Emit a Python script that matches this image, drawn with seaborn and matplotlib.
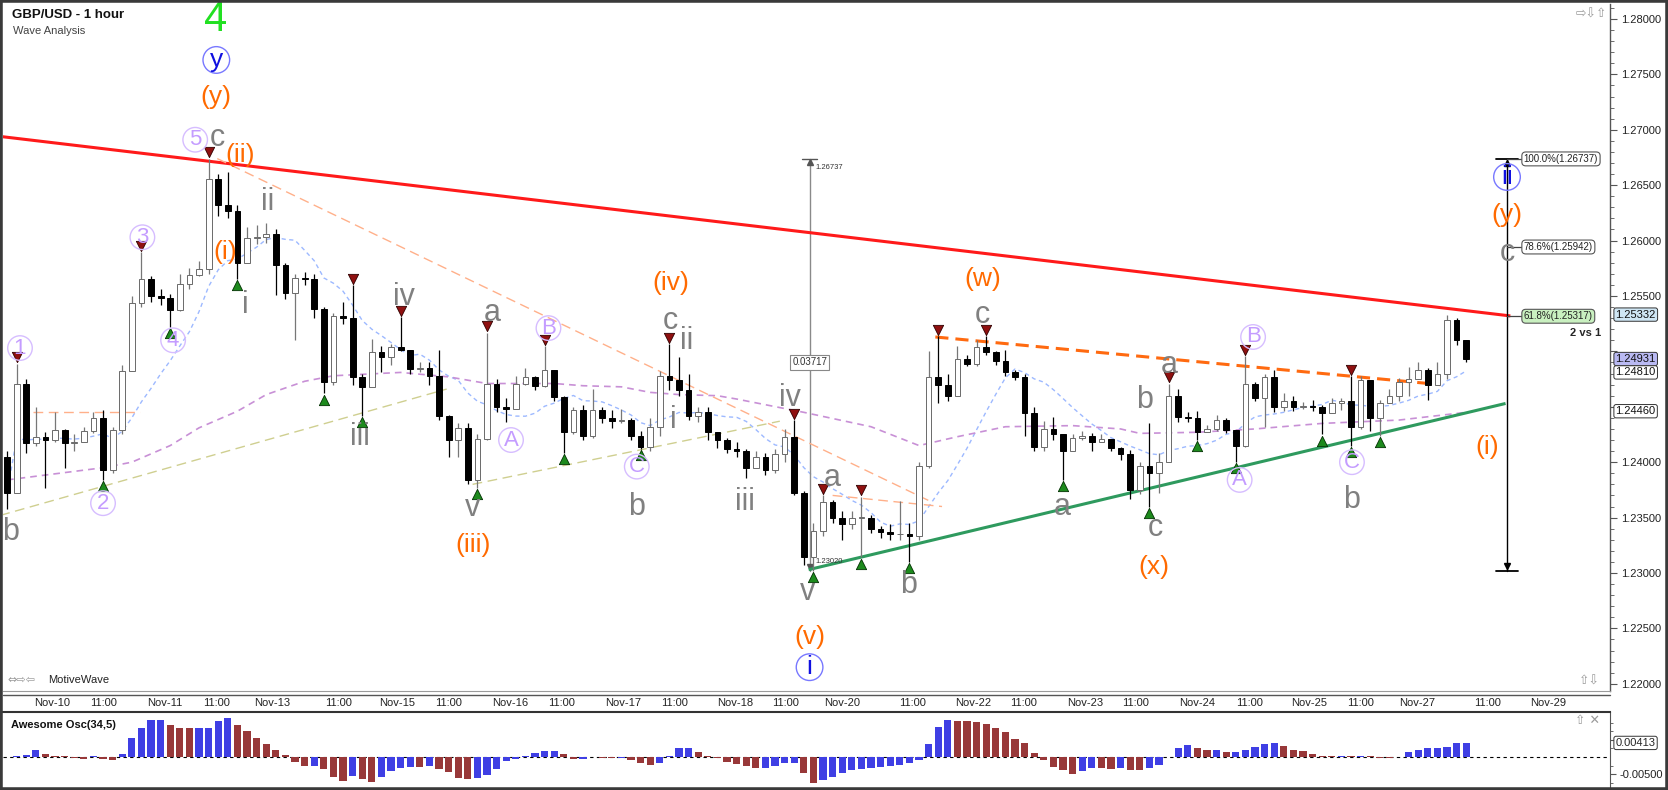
import numpy as np
import pandas as pd
import matplotlib
matplotlib.use("Agg")
import matplotlib.pyplot as plt
from matplotlib.lines import Line2D
from matplotlib.patches import Rectangle
import seaborn as sns

# ---- price data (2-hour candles) ----
first_open = 1.2405
closes = [
    1.2372, 1.2471, 1.2417, 1.2423, 1.2420, 1.2429, 1.2417, 1.2418, 1.2428, 1.2440,
    1.2393, 1.2429, 1.2482, 1.2544, 1.2565, 1.2550, 1.2548, 1.2537, 1.2561, 1.2569,
    1.2574, 1.2656, 1.2632, 1.2627, 1.2580, 1.2602, 1.2603, 1.2606, 1.2578, 1.2553,
    1.2566, 1.2565, 1.2538, 1.2472, 1.2532, 1.2530, 1.2477, 1.2468, 1.2499, 1.2495,
    1.2504, 1.2501, 1.2484, 1.2485, 1.2478, 1.2442, 1.2420, 1.2431, 1.2384, 1.2421,
    1.2471, 1.2450, 1.2448, 1.2471, 1.2477, 1.2469, 1.2483, 1.2459, 1.2427, 1.2447,
    1.2424, 1.2447, 1.2440, 1.2437, 1.2438, 1.2424, 1.2414, 1.2432, 1.2478, 1.2474,
    1.2465, 1.2442, 1.2445, 1.2427, 1.2420, 1.2412, 1.2410, 1.2395, 1.2405, 1.2393,
    1.2407, 1.2423, 1.2372, 1.2314, 1.2338, 1.2364, 1.2350, 1.2344, 1.2350, 1.2350,
    1.2340, 1.2337, 1.2335, 1.2335, 1.2333, 1.2397, 1.2477, 1.2470, 1.2460, 1.2493,
    1.2489, 1.2504, 1.2499, 1.2491, 1.2481, 1.2477, 1.2444, 1.2414, 1.2430, 1.2425,
    1.2410, 1.2422, 1.2424, 1.2418, 1.2421, 1.2413, 1.2407, 1.2375, 1.2397, 1.2390,
    1.2400, 1.2460, 1.2441, 1.2440, 1.2427, 1.2430, 1.2438, 1.2429, 1.2415, 1.2471,
    1.2458, 1.2477, 1.2450, 1.2455, 1.2450, 1.2451, 1.2450, 1.2444, 1.2453, 1.2455,
    1.2432, 1.2474, 1.2440, 1.2453, 1.2460, 1.2472, 1.2475, 1.2483, 1.2470, 1.2480,
    1.2528, 1.2510, 1.2493,
]
highs = [
    1.2410, 1.2489, 1.2475, 1.2450, 1.2427, 1.2445, 1.2430, 1.2425, 1.2432, 1.2445,
    1.2447, 1.2432, 1.2488, 1.2550, 1.2590, 1.2568, 1.2556, 1.2552, 1.2570, 1.2575,
    1.2582, 1.2674, 1.2660, 1.2662, 1.2632, 1.2612, 1.2614, 1.2616, 1.2610, 1.2580,
    1.2570, 1.2572, 1.2570, 1.2540, 1.2535, 1.2545, 1.2560, 1.2480, 1.2511, 1.2505,
    1.2507, 1.2531, 1.2501, 1.2490, 1.2490, 1.2501, 1.2443, 1.2435, 1.2435, 1.2425,
    1.2517, 1.2475, 1.2458, 1.2478, 1.2485, 1.2478, 1.2505, 1.2478, 1.2460, 1.2450,
    1.2452, 1.2466, 1.2450, 1.2447, 1.2448, 1.2440, 1.2428, 1.2440, 1.2482, 1.2507,
    1.2495, 1.2480, 1.2450, 1.2450, 1.2424, 1.2422, 1.2418, 1.2412, 1.2410, 1.2408,
    1.2412, 1.2430, 1.2438, 1.2374, 1.2345, 1.2370, 1.2366, 1.2356, 1.2356, 1.2369,
    1.2352, 1.2342, 1.2344, 1.2365, 1.2345, 1.2400, 1.2500, 1.2514, 1.2480, 1.2505,
    1.2497, 1.2510, 1.2514, 1.2500, 1.2501, 1.2483, 1.2480, 1.2450, 1.2437, 1.2441,
    1.2420, 1.2425, 1.2428, 1.2426, 1.2425, 1.2418, 1.2414, 1.2411, 1.2400, 1.2435,
    1.2408, 1.2471, 1.2466, 1.2445, 1.2446, 1.2434, 1.2443, 1.2440, 1.2429, 1.2496,
    1.2472, 1.2480, 1.2483, 1.2462, 1.2460, 1.2454, 1.2456, 1.2452, 1.2458, 1.2458,
    1.2478, 1.2478, 1.2468, 1.2456, 1.2466, 1.2476, 1.2486, 1.2490, 1.2485, 1.2490,
    1.2533, 1.2530, 1.2510,
]
lows = [
    1.2358, 1.2375, 1.2408, 1.2415, 1.2377, 1.2418, 1.2395, 1.2410, 1.2418, 1.2426,
    1.2384, 1.2390, 1.2425, 1.2484, 1.2540, 1.2545, 1.2542, 1.2522, 1.2536, 1.2556,
    1.2568, 1.2570, 1.2622, 1.2620, 1.2565, 1.2580, 1.2597, 1.2598, 1.2551, 1.2547,
    1.2510, 1.2560, 1.2530, 1.2462, 1.2470, 1.2525, 1.2470, 1.2442, 1.2468, 1.2481,
    1.2488, 1.2500, 1.2480, 1.2481, 1.2470, 1.2438, 1.2405, 1.2405, 1.2380, 1.2377,
    1.2420, 1.2445, 1.2436, 1.2448, 1.2470, 1.2465, 1.2468, 1.2455, 1.2408, 1.2425,
    1.2420, 1.2422, 1.2435, 1.2431, 1.2435, 1.2420, 1.2412, 1.2410, 1.2424, 1.2465,
    1.2460, 1.2438, 1.2436, 1.2420, 1.2413, 1.2408, 1.2405, 1.2386, 1.2395, 1.2388,
    1.2390, 1.2400, 1.2370, 1.2307, 1.2302, 1.2333, 1.2345, 1.2330, 1.2340, 1.2314,
    1.2336, 1.2332, 1.2330, 1.2330, 1.2310, 1.2330, 1.2395, 1.2453, 1.2455, 1.2460,
    1.2487, 1.2487, 1.2497, 1.2488, 1.2478, 1.2474, 1.2424, 1.2410, 1.2410, 1.2420,
    1.2384, 1.2412, 1.2420, 1.2410, 1.2418, 1.2410, 1.2402, 1.2367, 1.2371, 1.2360,
    1.2372, 1.2400, 1.2436, 1.2436, 1.2420, 1.2427, 1.2428, 1.2426, 1.2400, 1.2414,
    1.2455, 1.2432, 1.2445, 1.2446, 1.2446, 1.2448, 1.2446, 1.2425, 1.2447, 1.2447,
    1.2415, 1.2430, 1.2428, 1.2424, 1.2455, 1.2455, 1.2460, 1.2478, 1.2456, 1.2470,
    1.2475, 1.2506, 1.2490,
]

# Awesome Oscillator bars (x 0.001)
ao_vals = [
    0.1, 0.2, 0.6, 2.2, 1.0, 0.4, 0.2, -0.3, -0.5, 0.2,
    -0.5, -1.0, 1.0, 5.5, 8.6, 10.8, 10.9, 9.3, 8.5, 8.4,
    8.4, 8.6, 10.5, 11.5, 9.4, 7.5, 5.5, 3.9, 2.2, 0.6,
    -1.5, -2.6, -2.6, -3.5, -6.0, -6.9, -5.6, -6.4, -7.4, -6.0,
    -4.2, -3.2, -2.8, -3.0, -2.7, -3.5, -4.4, -6.2, -6.5, -6.2,
    -5.3, -3.5, -1.2, -0.6, 0.4, 1.1, 1.8, 1.8, 1.0, -0.5,
    -0.5, 0.0, -0.3, -0.4, -0.4, -1.0, -1.9, -2.4, -1.9, 0.2,
    2.5, 2.6, 1.4, 0.2, -0.4, -1.4, -2.1, -2.6, -3.3, -3.2,
    -2.7, -1.9, -1.8, -4.6, -7.6, -6.6, -5.9, -4.6, -3.9, -3.6,
    -3.2, -2.9, -2.5, -2.2, -1.8, -0.8, 3.8, 8.8, 11.0, 10.6,
    10.5, 10.3, 9.6, 8.6, 7.4, 5.4, 4.1, 1.2, -0.9, -2.8,
    -3.9, -4.9, -4.1, -3.2, -3.3, -3.4, -3.3, -3.7, -3.9, -3.2,
    -2.3, 0.0, 2.5, 3.6, 2.5, 2.0, 2.0, 1.6, 1.6, 2.0,
    2.9, 3.9, 4.0, 3.1, 2.2, 1.8, 0.9, 0.4, 0.3, 0.3,
    0.2, 0.3, 0.2, -0.2, -0.4, 0.1, 1.5, 2.1, 2.5, 2.5,
    2.9, 4.0, 4.13,
]

# slow moving average (purple), read at a few points
slow_ma_idx = [0, 10, 13, 17, 20, 24, 27, 31, 34, 41, 46, 50, 57, 60, 64, 67, 70, 74,
               76, 83, 90, 95, 99, 104, 111, 116, 118, 124, 130, 137, 145, 152]
slow_ma_val = [1.2384, 1.2395, 1.2400, 1.2415, 1.2431, 1.2446, 1.2461, 1.2473, 1.2478,
               1.2481, 1.2477, 1.2471, 1.2471, 1.2469, 1.2468, 1.2463, 1.2461, 1.2460,
               1.2457, 1.2445, 1.2432, 1.2415, 1.2423, 1.2432, 1.2433, 1.2430, 1.2426,
               1.2427, 1.2430, 1.2435, 1.2438, 1.2445]

# hand drawn trend lines: (x0, y0), (x1, y1), colour, width, dash
trend_lines = [
    ((-0.73, 1.2694), (156.6, 1.2532), "#ff1a1a", 2.2, "-"),
    ((83.5, 1.2303), (156.1, 1.2453), "#2e9a5e", 2.2, "-"),
    ((96.7, 1.2513), (149.3, 1.2470), "#ff6a10", 2.2, (0, (4.3, 2.3))),
    ((21.9, 1.2674), (96.1, 1.2365), "#ffb08a", 1.0, (0, (7, 4))),
    ((86.0, 1.2370), (97.4, 1.2360), "#ffb08a", 1.0, (0, (7, 4))),
    ((2.7, 1.2445), (13.9, 1.2445), "#ffb08a", 1.0, (0, (7, 4))),
    ((-0.7, 1.2352), (45.8, 1.2466), "#cfcf90", 1.0, (0, (7, 4))),
    ((48.5, 1.2380), (80.5, 1.2437), "#cfcf90", 1.0, (0, (7, 4))),
]

hi_marks = [1, 14, 21, 36, 41, 50, 56, 69, 82, 85, 89, 97, 102, 121, 129, 140]
lo_marks = [10, 17, 24, 33, 37, 49, 58, 66, 84, 89, 94, 110, 119, 124, 128, 137, 140, 143]

waves = [
    ("4", 21.7, 1.2799, "green"), ("y", 21.8, 1.2763, "bluec"), ("(y)", 21.8, 1.2730, "orange"),
    ("5", 19.6, 1.2691, "purplec"), ("c", 21.9, 1.2693, "gray"), ("(ii)", 24.3, 1.2677, "orange"),
    ("ii", 27.1, 1.2635, "gray"), ("(i)", 22.7, 1.2590, "orange"), ("i", 24.8, 1.2542, "gray"),
    ("3", 14.1, 1.2603, "purplec"), ("4", 17.3, 1.2510, "purplec"), ("1", 1.35, 1.2503, "purplec"),
    ("2", 10.0, 1.2363, "purplec"), ("b", 0.4, 1.2337, "gray"), ("iii", 36.8, 1.2423, "gray"),
    ("iv", 41.3, 1.2549, "gray"), ("a", 50.5, 1.2535, "gray"), ("B", 56.4, 1.2521, "purplec"),
    ("A", 52.5, 1.2420, "purplec"), ("v", 48.5, 1.2359, "gray"), ("(iii)", 48.5, 1.2325, "orange"),
    ("C", 65.6, 1.2396, "purplec"), ("b", 65.6, 1.2360, "gray"), ("c", 69.1, 1.2527, "gray"),
    ("ii", 70.8, 1.2509, "gray"), ("i", 69.4, 1.2438, "gray"), ("(iv)", 69.1, 1.2562, "orange"),
    ("iii", 76.9, 1.2364, "gray"), ("iv", 81.6, 1.2458, "gray"), ("a", 86.0, 1.2386, "gray"),
    ("v", 83.4, 1.2283, "gray"), ("(v)", 83.6, 1.2242, "orange"), ("i", 83.6, 1.2215, "bluec"),
    ("b", 93.9, 1.2289, "gray"), ("(w)", 101.6, 1.2565, "orange"), ("c", 101.6, 1.2533, "gray"),
    ("a", 109.9, 1.2360, "gray"), ("b", 118.5, 1.2456, "gray"), ("a", 121.1, 1.2488, "gray"),
    ("c", 119.6, 1.2341, "gray"), ("(x)", 119.5, 1.2305, "orange"), ("B", 129.8, 1.2513, "purplec"),
    ("A", 128.4, 1.2384, "purplec"), ("C", 140.1, 1.2400, "purplec"), ("b", 140.1, 1.2366, "gray"),
    ("(i)", 154.2, 1.2414, "orange"), ("ii", 156.25, 1.26574, "bluec"), ("(y)", 156.25, 1.26231, "orange"),
    ("c", 156.25, 1.25888, "gray"),
]

tick_pos = [4.7, 10.1, 16.4, 21.8, 27.6, 34.5, 40.6, 46.0, 52.4, 57.8, 64.2, 69.5, 75.8, 81.1,
            87.0, 94.3, 100.6, 105.9, 112.3, 117.6, 124.0, 129.4, 135.6, 141.0, 146.9, 154.2,
            160.5, 165.8]
tick_txt = ["Nov-10", "11:00", "Nov-11", "11:00", "Nov-13", "11:00", "Nov-15", "11:00",
            "Nov-16", "11:00", "Nov-17", "11:00", "Nov-18", "11:00", "Nov-20", "11:00",
            "Nov-22", "11:00", "Nov-23", "11:00", "Nov-24", "11:00", "Nov-25", "11:00",
            "Nov-27", "11:00", "Nov-29", ""]

meas_top, meas_bot = 1.26737, 1.23020
fib_levels = [(1.26737, "100.0%(1.26737)", "white"), (1.25942, "78.6%(1.25942)", "white"),
              (1.25317, "61.8%(1.25317)", "#c9f0c0")]
price_boxes = [(1.25332, "#cfe6f4"), (1.24931, "#b9b9f2"), (1.24810, "white"), (1.24460, "white")]
hidden_ticks = {"1.25000", "1.24500"}   # covered by the price boxes in the original

sns.set_style("white")
plt.rcParams["font.family"] = ["Liberation Sans", "DejaVu Sans"]

W, H = 1668, 790
fig = plt.figure(figsize=(W / 100, H / 100), dpi=100)
ax = fig.add_axes([3 / W, 1 - 691 / H, 1607 / W, 687 / H])
ax2 = fig.add_axes([3 / W, 1 - 787 / H, 1607 / W, 75 / H])

n = len(closes)
idx = np.arange(n)
c = np.array(closes)
o = np.array([first_open] + closes[:-1])
hi = np.maximum(np.array(highs), np.maximum(o, c))
lo = np.minimum(np.array(lows), np.minimum(o, c))
up = c >= o

# moving averages
fast_ma = pd.Series(c).rolling(10, min_periods=1).mean()
sns.lineplot(x=idx, y=fast_ma, ax=ax, color="#9db9ff", lw=1.0, linestyle=(0, (3, 2.5)), zorder=2)
sns.lineplot(x=slow_ma_idx, y=slow_ma_val, ax=ax, color="#c890d6", lw=1.2, linestyle=(0, (4, 3)), zorder=2)

for (x0, y0), (x1, y1), col, lw, ls in trend_lines:
    ax.plot([x0, x1], [y0, y1], color=col, lw=lw, linestyle=ls, zorder=2.5, solid_capstyle="butt")

# candles
ax.vlines(idx[up], lo[up], hi[up], color="#777777", lw=0.9, zorder=3)
ax.vlines(idx[~up], lo[~up], hi[~up], color="black", lw=0.9, zorder=3)
body = np.maximum(np.abs(c - o), 0.00004)
ax.bar(idx, body, bottom=np.minimum(c, o), width=0.6,
       color=np.where(up, "white", "black"), edgecolor=np.where(up, "#6a6a6a", "black"),
       linewidth=0.7, zorder=4)

# pivot markers
ax.scatter(hi_marks, hi[hi_marks] + 0.00055, marker="v", s=55, c="#8f1010",
           edgecolors="#300000", linewidths=0.6, zorder=5)
ax.scatter(lo_marks, lo[lo_marks] - 0.00055, marker="^", s=55, c="#1d8a1d",
           edgecolors="#003000", linewidths=0.6, zorder=5)

# measurement tool (left)
mx = 83.6
ax.plot([mx, mx], [meas_bot, meas_top], color="#8a8a8a", lw=1.0, zorder=2)
ax.plot([mx - 0.8, mx + 0.8], [meas_top, meas_top], color="#555", lw=1.0)
ax.plot([mx], [meas_top - 0.0003], marker="^", ms=4, color="#555")
ax.plot([mx], [meas_bot + 0.0003], marker="v", ms=4, color="#555")
ax.text(mx + 0.6, meas_top - 0.0008, f"{meas_top:.5f}", fontsize=5.5, color="#333", va="center")
ax.text(mx + 0.6, meas_bot + 0.0008, f"{meas_bot:.5f}", fontsize=5.5, color="#333", va="center")
ax.text(mx, 1.2490, f"{meas_top - meas_bot:.5f}", fontsize=7, ha="center", va="center", color="#333",
        bbox=dict(boxstyle="square,pad=0.25", fc="white", ec="#888", lw=0.8), zorder=6)

# fib tool (right)
fx = 156.25
ax.plot([fx, fx], [meas_bot, meas_top], color="black", lw=1.0, zorder=5)
for yy in (meas_top, meas_bot):
    ax.plot([fx - 1.1, fx + 1.1], [yy, yy], color="black", lw=1.3, zorder=5)
ax.plot([fx], [meas_top - 0.0004], marker="^", ms=5, color="black", zorder=5)
ax.plot([fx], [meas_bot + 0.0004], marker="v", ms=5, color="black", zorder=5)
for yy, txt, fc in fib_levels:
    ax.plot([fx, 157.9], [yy, yy], color="#444", lw=0.9, zorder=5)
    ax.text(158.0, yy, txt, fontsize=7, va="center", ha="left", color="#222", zorder=6,
            bbox=dict(boxstyle="round,pad=0.2,rounding_size=0.4", fc=fc, ec="#555", lw=0.8))
ax.text(164.4, 1.2517, "2 vs 1", fontsize=8, fontweight="bold", ha="center", va="center")

# wave labels
styles = {
    "gray": dict(color="#808080", fontsize=22),
    "orange": dict(color="#ff6a00", fontsize=19),
    "green": dict(color="#22e022", fontsize=30),
    "purplec": dict(color="#c49cff", fontsize=16,
                    bbox=dict(boxstyle="circle,pad=0.08", fc="none", ec="#d6bdff", lw=1.0)),
    "bluec": dict(color="#1010e0", fontsize=19,
                  bbox=dict(boxstyle="circle,pad=0.05", fc="none", ec="#7878ff", lw=1.0)),
}
for t, x, y, s in waves:
    ax.text(x, y, t, ha="center", va="center", zorder=7, **styles[s])

# price axis
ax.set_xlim(-0.42, 166.98)
ax.set_ylim(1.21935, 1.28135)
ax.yaxis.tick_right()
yt = np.arange(1.22, 1.28001, 0.005)
ax.set_yticks(yt)
ax.set_yticklabels(["" if f"{v:.5f}" in hidden_ticks else f"{v:.5f}" for v in yt])
ax.set_yticks(np.arange(1.22, 1.28101, 0.001), minor=True)
ax.tick_params(axis="y", which="major", length=5, width=0.8, color="#555", labelsize=8, pad=3,
               labelcolor="#222", right=True, left=False)
ax.tick_params(axis="y", which="minor", length=3, width=0.6, color="#555", right=True, left=False)
ax.set_xticks(tick_pos)
ax.set_xticklabels(tick_txt)
ax.tick_params(axis="x", length=3, width=0.8, color="#555", labelsize=8, pad=2, labelcolor="#222")
ax.set_xlabel("")
ax.set_ylabel("")
for side in ("top", "left"):
    ax.spines[side].set_visible(False)
ax.spines["bottom"].set_color("#9a9a9a")
ax.spines["right"].set_color("#555")
ax.spines["right"].set_linewidth(1.0)

for yy, fc in price_boxes:
    ax.annotate(f"{yy:.5f}", xy=(1.0, yy), xycoords=("axes fraction", "data"), xytext=(4, 0),
                textcoords="offset points", ha="left", va="center", fontsize=8, color="#111",
                bbox=dict(boxstyle="round,pad=0.15,rounding_size=0.2", fc=fc, ec="#333", lw=0.7),
                annotation_clip=False, zorder=8)

ax.text(0.003, 0.016, "\u21d4\u21e8\u21e6", transform=ax.transAxes, fontsize=8, color="#999",
        family="DejaVu Sans", va="center")
ax.text(0.028, 0.016, "MotiveWave", transform=ax.transAxes, fontsize=8, color="#222", va="center")
ax.text(0.998, 0.985, "\u21e8\u21e9\u21e7", transform=ax.transAxes, fontsize=9, color="#999",
        family="DejaVu Sans", ha="right", va="center")
ax.text(0.994, 0.015, "\u21e7\u21e9", transform=ax.transAxes, fontsize=9, color="#999",
        family="DejaVu Sans", ha="right", va="center")

# awesome oscillator
ao = np.array(ao_vals) * 0.001
osc = pd.DataFrame({"j": idx, "ao": ao,
                    "dir": np.where(np.diff(ao, prepend=ao[0]) >= 0, "up", "down")})
ax2.axhline(0, color="black", lw=0.8, linestyle=(0, (3, 3)), zorder=0)
sns.barplot(data=osc, x="j", y="ao", hue="dir", palette={"up": "#2424ff", "down": "#a8282a"},
            native_scale=True, dodge=False, width=0.75, errorbar=None, legend=False,
            linewidth=0, ax=ax2)
ax2.set_xlim(-0.42, 166.98)
ax2.set_ylim(-0.0088, 0.0132)
ax2.set_xticks([])
ax2.set_xlabel("")
ax2.set_ylabel("")
ax2.yaxis.tick_right()
ax2.set_yticks([-0.005, 0.005])
ax2.set_yticklabels(["-0.00500", ""])
ax2.set_yticks([-0.0075, -0.0025, 0.0025, 0.0075, 0.01], minor=True)
ax2.tick_params(axis="y", which="both", length=4, color="#555", labelsize=8, pad=3, labelcolor="#222")
ax2.tick_params(axis="y", which="minor", length=2.5)
ax2.spines["left"].set_visible(False)
ax2.spines["top"].set_color("#333")
ax2.spines["top"].set_linewidth(1.5)
ax2.spines["right"].set_color("#555")
ax2.spines["bottom"].set_visible(False)
ax2.annotate(f"{ao_vals[-1] / 1000:.5f}", xy=(1.0, ao[-1]), xycoords=("axes fraction", "data"),
             xytext=(4, 0), textcoords="offset points", ha="left", va="center", fontsize=8,
             bbox=dict(boxstyle="round,pad=0.15,rounding_size=0.2", fc="white", ec="#333", lw=0.7),
             annotation_clip=False)
ax2.text(0.005, 0.82, "Awesome Osc(34,5)", transform=ax2.transAxes, fontsize=8,
         fontweight="bold", va="center", color="#111")
ax2.text(0.994, 0.88, "\u21e7 \u2715", transform=ax2.transAxes, fontsize=9, color="#999",
         family="DejaVu Sans", ha="right", va="center")

# frame, titles, separators
fig.text(12 / W, 1 - 15 / H, "GBP/USD - 1 hour", fontsize=9.5, fontweight="bold", va="center", color="#111")
fig.text(13 / W, 1 - 31 / H, "Wave Analysis", fontsize=8, va="center", color="#444")
fig.add_artist(Line2D([3 / W, 1610 / W], [1 - 695 / H] * 2, color="#555", lw=1.0))
fig.add_artist(Rectangle((0, 0), 1, 1, transform=fig.transFigure, fill=False, ec="#3a3a3a", lw=4))

fig.savefig("out.png", dpi=100, facecolor="white")
